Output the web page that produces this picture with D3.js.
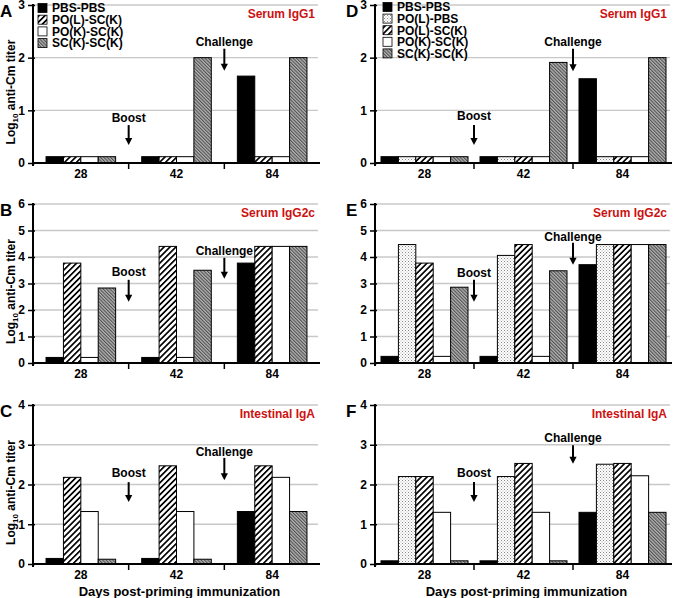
<!DOCTYPE html>
<html><head><meta charset="utf-8">
<script src="https://cdn.jsdelivr.net/npm/d3@7"></script>
<style>
html,body{margin:0;padding:0;background:#fff;}
svg text{font-family:"Liberation Sans",Arial,sans-serif;font-weight:bold;}
</style></head>
<body><svg id="chart" width="675" height="598"></svg>
<script>
// ---------- data ----------
const days = ["28", "42", "84"];
const seriesLeft = ["PBS-PBS", "PO(L)-SC(K)", "PO(K)-SC(K)", "SC(K)-SC(K)"];
const seriesRight = ["PBS-PBS", "PO(L)-PBS", "PO(L)-SC(K)", "PO(K)-SC(K)", "SC(K)-SC(K)"];
const fillOf = {"PBS-PBS":"solid","PO(L)-PBS":"dots","PO(L)-SC(K)":"hatch","PO(K)-SC(K)":"white","SC(K)-SC(K)":"gray"};

// values[series][day]
const valuesA = [[0.12,0.12,1.65],[0.12,0.12,0.12],[0.12,0.12,0.12],[0.12,2.0,2.0]];
const valuesB = [[0.21,0.21,3.77],[3.77,4.4,4.4],[0.21,0.21,4.4],[2.83,3.5,4.4]];
const valuesC = [[0.14,0.14,1.32],[2.18,2.47,2.47],[1.32,1.32,2.18],[0.12,0.12,1.32]];
const valuesD = [[0.12,0.12,1.6],[0.12,0.12,0.12],[0.12,0.12,0.12],[0.12,0.12,0.12],[0.12,1.91,2.0]];
const valuesE = [[0.25,0.25,3.71],[4.47,4.06,4.47],[3.77,4.47,4.47],[0.25,0.25,4.47],[2.86,3.48,4.47]];
const valuesF = [[0.08,0.08,1.3],[2.2,2.2,2.51],[2.2,2.53,2.53],[1.3,1.3,2.22],[0.08,0.08,1.3]];

const yMaxes = [3, 6, 4];
const panelTitles = ["Serum IgG1", "Serum IgG2c", "Intestinal IgA"];
const panelLetters = [["A","B","C"],["D","E","F"]];
// annotations: [textValue, arrowTop, arrowBottom] in data units, x at group boundary
const boostAnn = [[[0.85,0.72,0.34],[3.45,3.14,2.31],[2.29,2.06,1.56]],
                  [[0.89,0.72,0.34],[3.41,3.14,2.31],[2.29,2.06,1.56]]];
const challengeAnn = [[[2.3,2.17,1.75],[4.24,3.97,3.18],[2.82,2.67,2.11]],
                      [[2.3,2.17,1.74],[4.77,4.54,3.71],[3.17,2.99,2.52]]];
const yTitle = "anti-Cm titer";
const xTitle = "Days post-priming immunization";

// ---------- layout ----------
const svg = d3.select("#chart");
const cols = [{x0:33, x1:320}, {x0:375, x1:672}];
const rows = [{yt:5, yb:163}, {yt:204, yb:363}, {yt:405, yb:564}];
const barW = 17.4;
const red = "#cc1111";

// patterns
const defs = svg.append("defs");
const ph = defs.append("pattern").attr("id","hatch").attr("patternUnits","userSpaceOnUse")
  .attr("width",4.2).attr("height",4.2).attr("patternTransform","rotate(45)");
ph.append("rect").attr("width",4.2).attr("height",4.2).attr("fill","#fff");
ph.append("rect").attr("width",1.7).attr("height",4.2).attr("fill","#000");
const pg = defs.append("pattern").attr("id","gray").attr("patternUnits","userSpaceOnUse")
  .attr("width",2.4).attr("height",2.4).attr("patternTransform","rotate(-45)");
pg.append("rect").attr("width",2.4).attr("height",2.4).attr("fill","#b4b4b4");
pg.append("rect").attr("width",1.1).attr("height",2.4).attr("fill","#505050");
const pd = defs.append("pattern").attr("id","dots").attr("patternUnits","userSpaceOnUse")
  .attr("width",3).attr("height",3);
pd.append("rect").attr("width",3).attr("height",3).attr("fill","#fff");
pd.append("rect").attr("x",0).attr("y",0).attr("width",1).attr("height",1).attr("fill","#888");
pd.append("rect").attr("x",1.5).attr("y",1.5).attr("width",1).attr("height",1).attr("fill","#aaa");

function fillUrl(s){
  const f = fillOf[s];
  if (f==="solid") return "#000";
  if (f==="white") return "#fff";
  return "url(#"+f+")";
}

const allValues = [[valuesA,valuesB,valuesC],[valuesD,valuesE,valuesF]];
const allSeries = [seriesLeft, seriesRight];

for (let c=0;c<2;c++){
  for (let r=0;r<3;r++){
    const col = cols[c], row = rows[r];
    const series = allSeries[c], vals = allValues[c][r];
    const g = svg.append("g");
    const x = d3.scaleBand().domain(days).range([col.x0,col.x1]).padding(0);
    const xi = d3.scaleBand().domain(series).range([0, series.length*barW]).padding(0);
    const xpos = d3.scaleLinear().domain([0,days.length]).range([col.x0,col.x1]);
    const y = d3.scaleLinear().domain([0,yMaxes[r]]).range([row.yb,row.yt]);

    // gridlines
    g.selectAll(".grid").data(d3.range(1,yMaxes[r]+1)).join("line")
      .attr("x1",col.x0).attr("x2",col.x1-2).attr("y1",d=>y(d)).attr("y2",d=>y(d))
      .attr("stroke","#c8c8c8").attr("stroke-width",1.3);

    // bars
    const off = (x.bandwidth()-series.length*barW)/2;
    series.forEach((s,si)=>{
      g.selectAll(null).data(days).join("rect")
        .attr("x",d=>x(d)+off+xi(s)).attr("width",xi.bandwidth())
        .attr("y",(d,di)=>y(vals[si][di])).attr("height",(d,di)=>y(0)-y(vals[si][di]))
        .attr("fill",fillUrl(s)).attr("stroke","#000").attr("stroke-width",1);
    });

    // y axis
    const ya = g.append("g").attr("transform",`translate(${col.x0},0)`)
      .call(d3.axisLeft(y).ticks(yMaxes[r]).tickFormat(d3.format("d")).tickSize(5).tickPadding(3));
    ya.select(".domain").attr("stroke-width",2).attr("d",`M0,${row.yt-1}V${row.yb+3}`);
    ya.selectAll(".tick line").attr("x1",2).attr("x2",-5).attr("stroke-width",1.5);
    ya.selectAll("text").attr("font-size",12).attr("font-family","Liberation Sans, Arial").attr("font-weight","bold");

    // x axis
    const xa = g.append("g").attr("transform",`translate(0,${row.yb})`)
      .call(d3.axisBottom(x).tickSize(0).tickPadding(6));
    xa.select(".domain").attr("stroke-width",2).attr("d",`M${col.x0},0H${col.x1}`);
    xa.selectAll("text").attr("font-size",12).attr("font-family","Liberation Sans, Arial").attr("font-weight","bold");
    g.selectAll(".bt").data([1,2]).join("line")
      .attr("x1",d=>xpos(d)).attr("x2",d=>xpos(d)).attr("y1",row.yb).attr("y2",row.yb+6)
      .attr("stroke","#000").attr("stroke-width",1.5);

    // panel title
    g.append("text").attr("x",col.x1-5).attr("y",row.yt+13).attr("text-anchor","end")
      .attr("font-size",12).attr("fill",red).text(panelTitles[r]);
    // panel letter
    g.append("text").attr("x",c===0?0:346).attr("y",row.yt+12).attr("font-size",17)
      .text(panelLetters[c][r]);

    // annotations
    const ann = [["Boost",1,boostAnn[c][r]],["Challenge",2,challengeAnn[c][r]]];
    ann.forEach(([label,pos,a])=>{
      const ax = xpos(pos);
      g.append("text").attr("x",ax).attr("y",y(a[0])).attr("dy","0.35em")
        .attr("text-anchor","middle").attr("font-size",12).text(label);
      g.append("line").attr("x1",ax).attr("x2",ax)
        .attr("y1",y(a[1])).attr("y2",y(a[2])-5)
        .attr("stroke","#000").attr("stroke-width",2);
      g.append("path")
        .attr("d",`M${ax-3.6},${y(a[2])-7}L${ax+3.6},${y(a[2])-7}L${ax},${y(a[2])}Z`)
        .attr("fill","#000");
    });

    // y title (left column only)
    if (c===0){
      const t = g.append("text").attr("transform",`translate(15,${(row.yt+row.yb)/2+8}) rotate(-90)`)
        .attr("text-anchor","middle").attr("font-size",12);
      t.append("tspan").text("Log");
      t.append("tspan").attr("font-size",8).attr("dy",3).text("10");
      t.append("tspan").attr("dy",-3).text(" "+yTitle);
    }
    // x title bottom row
    if (r===2){
      g.append("text").attr("x",(col.x0+col.x1)/2+3).attr("y",row.yb+32).attr("text-anchor","middle")
        .attr("font-size",13).text(xTitle);
    }
    // legend top row
    if (r===0){
      const lx = c===0?38:383, ly = c===0?8:7, step = c===0?11.7:11.6;
      const lg = g.append("g");
      series.forEach((s,i)=>{
        lg.append("rect").attr("x",lx).attr("y",ly+i*step-4.5).attr("width",9).attr("height",9)
          .attr("fill",fillUrl(s)).attr("stroke","#000").attr("stroke-width",0.8);
        lg.append("text").attr("x",lx+14).attr("y",ly+i*step).attr("dy","0.36em")
          .attr("font-size",12).text(s);
      });
    }
  }
}
</script></body></html>
